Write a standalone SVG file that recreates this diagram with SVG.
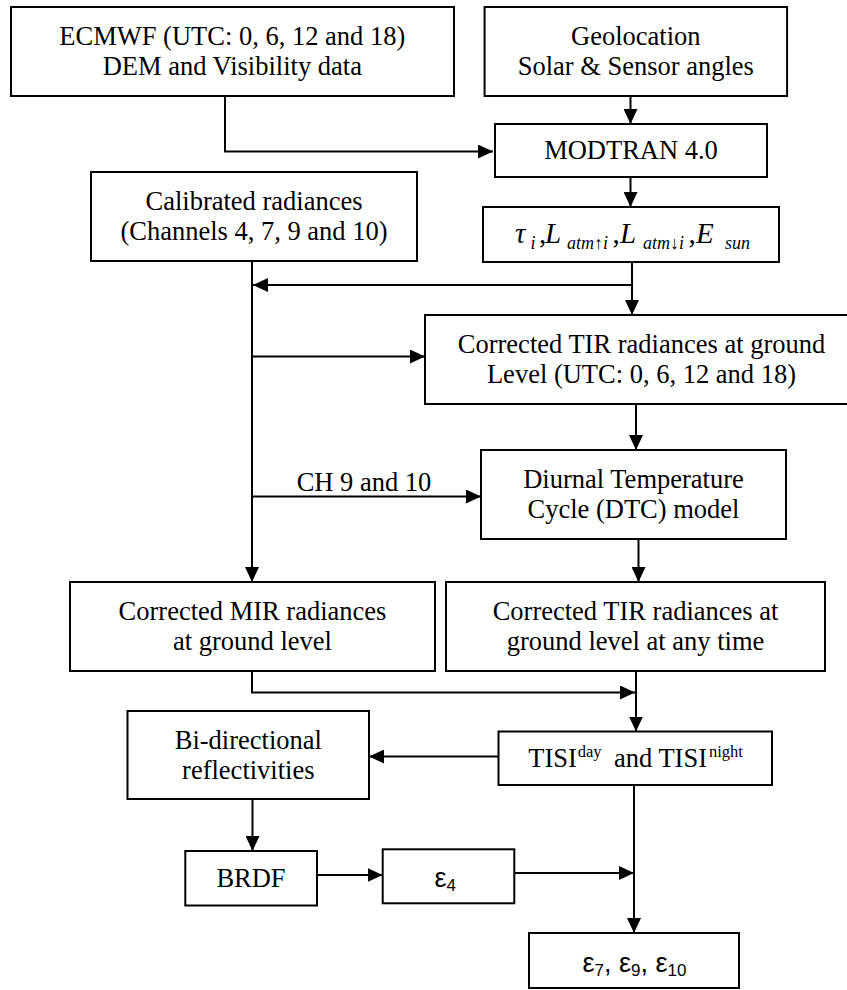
<svg xmlns="http://www.w3.org/2000/svg" width="847" height="990" viewBox="0 0 847 990">
<style>
.box{fill:#fff;stroke:#000;stroke-width:2}
.t{font-family:"Liberation Serif","Times New Roman",serif;font-size:26.5px;fill:#000;text-anchor:middle}
.ts{font-family:"Liberation Serif","Times New Roman",serif;font-size:26.5px;fill:#000;text-anchor:start}
.s{font-family:"Liberation Sans",Arial,sans-serif;fill:#000}
.m{font-family:"Liberation Serif","Times New Roman",serif;font-style:italic;fill:#000}
.u{font-family:"Liberation Serif","Times New Roman",serif;font-style:normal;fill:#000}
.c{fill:none;stroke:#000;stroke-width:2}
</style>
<defs>
<marker id="ah" markerUnits="userSpaceOnUse" markerWidth="15" markerHeight="14" refX="15" refY="7" orient="auto">
<path d="M0,0 L15,7 L0,14 z" fill="#000"/>
</marker>
</defs>
<rect width="847" height="990" fill="#fff"/>
<g id="connectors">
<path class="c" d="M225,96 V151.5 H493" marker-end="url(#ah)"/>
<path class="c" d="M630.5,96 V124" marker-end="url(#ah)"/>
<path class="c" d="M630.5,177 V207" marker-end="url(#ah)"/>
<path class="c" d="M632,262 V315" marker-end="url(#ah)"/>
<path class="c" d="M632,285 H253" marker-end="url(#ah)"/>
<path class="c" d="M252,261 V582" marker-end="url(#ah)"/>
<path class="c" d="M252,356.5 H425" marker-end="url(#ah)"/>
<path class="c" d="M252,496.5 H481" marker-end="url(#ah)"/>
<path class="c" d="M636,404 V450" marker-end="url(#ah)"/>
<path class="c" d="M638.5,539 V582" marker-end="url(#ah)"/>
<path class="c" d="M252,671 V692.5 H635" marker-end="url(#ah)"/>
<path class="c" d="M636,671 V731.5" marker-end="url(#ah)"/>
<path class="c" d="M498,756.5 H369" marker-end="url(#ah)"/>
<path class="c" d="M252.5,799 V851" marker-end="url(#ah)"/>
<path class="c" d="M317,875 H382.5" marker-end="url(#ah)"/>
<path class="c" d="M514,873 H634" marker-end="url(#ah)"/>
<path class="c" d="M634,785 V933" marker-end="url(#ah)"/>
<text class="t" x="364" y="490.5">CH 9 and 10</text>
</g>
<g id="ecmwf">
<rect class="box" x="11" y="7" width="443" height="89"/>
<text class="t" x="232.3" y="45.2">ECMWF (UTC: 0, 6, 12 and 18)</text>
<text class="t" x="232.3" y="75.2">DEM and Visibility data</text>
</g>
<g id="geolocation">
<rect class="box" x="484.6" y="7" width="302.5" height="89"/>
<text class="t" x="635.8" y="45.2">Geolocation</text>
<text class="t" x="635.8" y="75.2">Solar &amp; Sensor angles</text>
</g>
<g id="modtran">
<rect class="box" x="495" y="124" width="272" height="53"/>
<text class="t" x="631" y="159.3">MODTRAN 4.0</text>
</g>
<g id="calibrated">
<rect class="box" x="91" y="172" width="326" height="89"/>
<text class="t" x="254" y="210.3">Calibrated radiances</text>
<text class="t" x="254" y="240.3">(Channels 4, 7, 9 and 10)</text>
</g>
<g id="atm">
<rect class="box" x="483" y="207" width="296" height="55"/>
<text class="m" font-size="29" x="515" y="243">τ</text>
<text class="m" font-size="18" x="530.5" y="248.5">i</text>
<text class="u" font-size="29" x="539" y="243">,</text>
<text class="m" font-size="29" x="545" y="243">L</text>
<text class="m" font-size="18" x="567" y="248.5">atm<tspan font-style="normal">↑</tspan>i</text>
<text class="u" font-size="29" x="612.5" y="243">,</text>
<text class="m" font-size="29" x="620" y="243">L</text>
<text class="m" font-size="18" x="643" y="248.5">atm<tspan font-style="normal">↓</tspan>i</text>
<text class="u" font-size="29" x="688.5" y="243">,</text>
<text class="m" font-size="29" x="696" y="243">E</text>
<text class="m" font-size="18" x="725" y="248.5">sun</text>
</g>
<g id="tir-ground">
<rect class="box" x="425" y="315" width="430" height="89"/>
<text class="t" x="641.5" y="353.3">Corrected TIR radiances at ground</text>
<text class="t" x="641.5" y="383.3">Level (UTC: 0, 6, 12 and 18)</text>
</g>
<g id="dtc">
<rect class="box" x="481" y="450" width="305" height="89"/>
<text class="t" x="633.5" y="488.3">Diurnal Temperature</text>
<text class="t" x="633.5" y="518.3">Cycle (DTC) model</text>
</g>
<g id="mir">
<rect class="box" x="70" y="582" width="365" height="89"/>
<text class="t" x="252.5" y="620.3">Corrected MIR radiances</text>
<text class="t" x="252.5" y="650.3">at ground level</text>
</g>
<g id="tir-any">
<rect class="box" x="446" y="582" width="379" height="89"/>
<text class="t" x="635.5" y="620.3">Corrected TIR radiances at</text>
<text class="t" x="635.5" y="650.3">ground level at any time</text>
</g>
<g id="bidirectional">
<rect class="box" x="127.5" y="711" width="241.5" height="88"/>
<text class="t" x="248.3" y="748.8">Bi-directional</text>
<text class="t" x="248.3" y="778.8">reflectivities</text>
</g>
<g id="tisi">
<rect class="box" x="498.5" y="731.5" width="273.5" height="53.5"/>
<text class="ts" x="528.3" y="767">TISI<tspan font-size="16.5" x="577.7" dy="-10">day</tspan><tspan x="614" dy="10">and TISI</tspan><tspan font-size="16.5" x="709" dy="-10">night</tspan></text>
</g>
<g id="brdf">
<rect class="box" x="185.3" y="851" width="131.7" height="54.5"/>
<text class="t" x="251" y="887.2">BRDF</text>
</g>
<g id="eps4">
<rect class="box" x="382.7" y="849.3" width="131.6" height="54"/>
<text class="s" font-size="27" x="434.5" y="886.7">ε<tspan font-size="17" dy="4">4</tspan></text>
</g>
<g id="eps7">
<rect class="box" x="529" y="933" width="210" height="55"/>
<text class="s" font-size="27" x="582.5" y="971.7">ε<tspan font-size="17" dy="4">7</tspan><tspan dy="-4">, ε</tspan><tspan font-size="17" dy="4">9</tspan><tspan dy="-4">, ε</tspan><tspan font-size="17" dy="4">10</tspan></text>
</g>
</svg>
